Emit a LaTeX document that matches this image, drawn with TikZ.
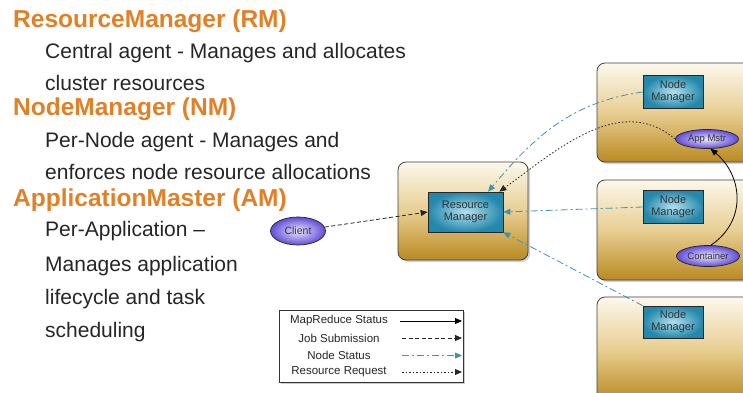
\documentclass[tikz,border=0pt]{standalone}
\usepackage{fontspec}
\setmainfont{Liberation Sans}
\usetikzlibrary{arrows.meta,shadows,shapes.geometric,positioning}
\definecolor{yarnorange}{RGB}{226,128,38}
\definecolor{goldtop}{RGB}{252,248,236}
\definecolor{goldmid}{RGB}{232,206,146}
\definecolor{goldbot}{RGB}{186,138,34}
\definecolor{mgrdark}{RGB}{36,136,172}
\definecolor{mgrlight}{RGB}{178,224,238}
\definecolor{statusteal}{RGB}{62,148,172}
\definecolor{ovaldark}{RGB}{96,76,214}
\definecolor{ovallight}{RGB}{238,232,255}

\begin{document}
\begin{tikzpicture}[x=1pt, y=-1pt,
  head/.style = {anchor=west, inner sep=0pt, text=yarnorange, font=\fontsize{24.5}{25}\selectfont\bfseries},
  body/.style = {anchor=west, inner sep=0pt, text=black!85, font=\fontsize{21}{22}\selectfont},
  host/.style = {draw=black!75, line width=0.8pt, rounded corners=8pt, top color=goldtop, bottom color=goldbot, middle color=goldmid,
                 drop shadow={opacity=0.35, shadow xshift=2pt, shadow yshift=-2pt}},
  mgr/.style = {draw=black!85, line width=0.7pt, align=center, inner sep=0pt, inner color=mgrlight, outer color=mgrdark,
                text=black!80, font=\fontsize{11}{12}\selectfont},
  oval/.style = {ellipse, draw=black!85, line width=0.7pt, inner sep=0pt, inner color=ovallight, outer color=ovaldark,
                 text=black!80, font=\fontsize{9.5}{10}\selectfont},
  mrstatus/.style = {draw=black, line width=0.8pt, -{Triangle[length=7pt,width=6pt]}},
  jobsub/.style = {draw=black!85, line width=0.8pt, dash pattern=on 4pt off 2.5pt, -{Triangle[length=7pt,width=6pt]}},
  nodestatus/.style = {draw=statusteal, line width=0.8pt, dash pattern=on 7pt off 3pt on 2pt off 3pt, -{Triangle[length=7pt,width=6pt]}},
  resreq/.style = {draw=black!85, line width=0.8pt, dash pattern=on 1.5pt off 2pt, -{Triangle[length=7pt,width=6pt]}},
  keytext/.style = {inner sep=0pt, text=black!85, font=\fontsize{11.5}{12}\selectfont}]

  \clip (0,0) rectangle (743,392);
  \fill[white] (0,0) rectangle (743,392);

  % left column
  \node[head] (rmhead) at (13,21) {ResourceManager (RM)};
  \node[body] (rmtxt1) at (45,53) {Central agent - Manages and allocates};
  \node[body] (rmtxt2) at (45,83) {cluster resources};
  \node[head] (nmhead) at (13,109) {NodeManager (NM)};
  \node[body] (nmtxt1) at (45,142) {Per-Node agent - Manages and};
  \node[body] (nmtxt2) at (45,172) {enforces node resource allocations};
  \node[head] (amhead) at (13,200) {ApplicationMaster (AM)};
  \node[body] (amtxt1) at (45,231) {Per-Application --};
  \node[body] (amtxt2) at (45,266) {Manages application};
  \node[body] (amtxt3) at (45,299) {lifecycle and task};
  \node[body] (amtxt4) at (45,332) {scheduling};

  % resource manager
  \node[host, minimum width=130pt, minimum height=98pt] (rmbox) at (463,211) {};
  \node[mgr, minimum width=75pt, minimum height=40pt] (rm) at (465.5,212) {Resource\\Manager};
  \node[oval, minimum width=55pt, minimum height=28pt, font=\fontsize{10.5}{11}\selectfont] (client) at (298,231) {Client};

  % node hosts
  \node[host, minimum width=170pt, minimum height=99pt] (host1) at (682,112.5) {};
  \node[host, minimum width=170pt, minimum height=100pt] (host2) at (682,230) {};
  \node[host, minimum width=170pt, minimum height=104pt] (host3) at (682,349) {};
  \node[mgr, minimum width=60pt, minimum height=33pt] (nm1) at (673,92) {Node\\Manager};
  \node[mgr, minimum width=60pt, minimum height=33pt] (nm2) at (673,207) {Node\\Manager};
  \node[mgr, minimum width=60pt, minimum height=32pt] (nm3) at (673,322) {Node\\Manager};
  \node[oval, minimum width=63pt, minimum height=19pt] (am) at (707,139) {App Mstr};
  \node[oval, minimum width=63pt, minimum height=21pt] (cont) at (708,256) {Container};

  % connectors
  \draw[jobsub] (client) -- (rm.west);
  \draw[nodestatus] (nm1.west) to[out=188, in=50] (rm.42);
  \draw[resreq] (am.west) to[out=140, in=36] (rm.31);
  \draw[nodestatus] (nm2.west) -- (rm.east);
  \draw[nodestatus] (nm3.north west) -- (rm.south east);
  \draw[mrstatus] (cont.75) .. controls (748,220) and (742,175) .. (am.-70);

  % legend
  \node[draw=black!80, line width=0.8pt, fill=white, minimum width=184pt, minimum height=72pt,
        drop shadow={opacity=0.4, shadow xshift=2pt, shadow yshift=-2pt}] (legend) at (371,346) {};
  \node[keytext] (key1) at (339,321) {MapReduce Status};
  \node[keytext] (key2) at (339,338) {Job Submission};
  \node[keytext] (key3) at (339,355.5) {Node Status};
  \node[keytext] (key4) at (339,372) {Resource Request};
  \coordinate (k1a) at (400,321);  \coordinate (k1b) at (462,321);
  \coordinate (k2a) at (402,338);  \coordinate (k2b) at (462,338);
  \coordinate (k3a) at (402,355.5); \coordinate (k3b) at (462,355.5);
  \coordinate (k4a) at (402,372);  \coordinate (k4b) at (462,372);
  \draw[mrstatus] (k1a) -- (k1b);
  \draw[jobsub] (k2a) -- (k2b);
  \draw[nodestatus] (k3a) -- (k3b);
  \draw[resreq] (k4a) -- (k4b);
\end{tikzpicture}
\end{document}
